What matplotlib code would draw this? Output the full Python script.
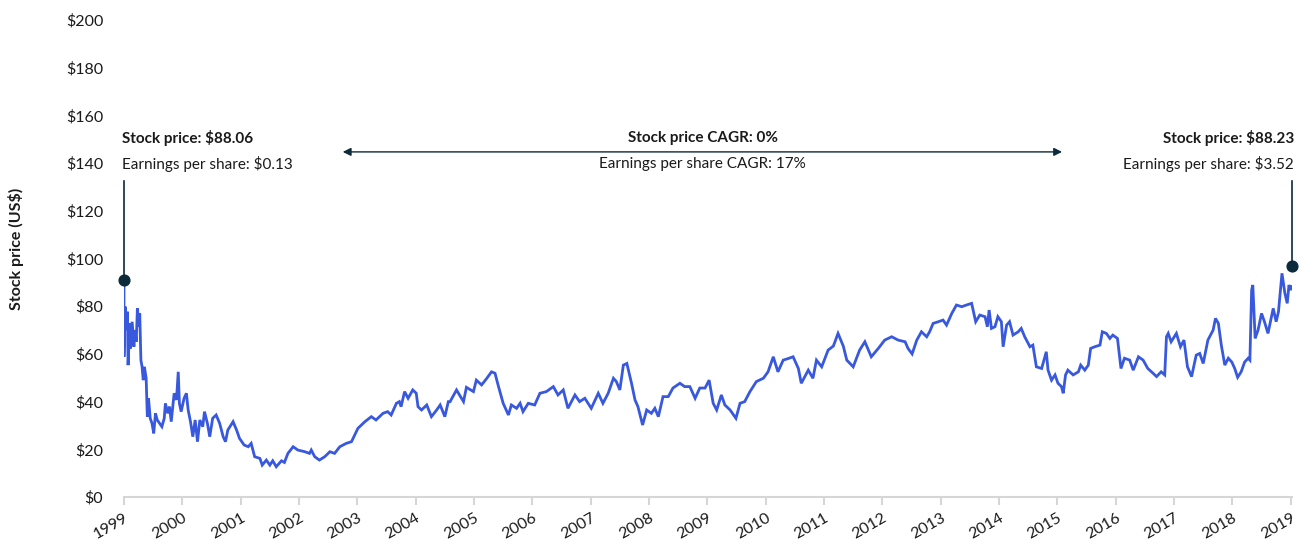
import matplotlib
matplotlib.use('Agg')
import matplotlib.pyplot as plt

# ── Data ─────────────────────────────────────────────────────────────────
years = [
    1999.00, 1999.00, 1999.02, 1999.04, 1999.06, 1999.07, 1999.10, 1999.11, 1999.14, 1999.17,
    1999.19, 1999.21, 1999.23, 1999.26, 1999.27, 1999.29, 1999.31, 1999.33, 1999.35, 1999.38,
    1999.40, 1999.42, 1999.45, 1999.48, 1999.51, 1999.54, 1999.57, 1999.61, 1999.65, 1999.69,
    1999.71, 1999.75, 1999.78, 1999.81, 1999.86, 1999.90, 1999.93, 1999.95, 1999.98, 2000.03,
    2000.07, 2000.10, 2000.14, 2000.18, 2000.22, 2000.26, 2000.30, 2000.35, 2000.38, 2000.43,
    2000.47, 2000.52, 2000.58, 2000.64, 2000.70, 2000.74, 2000.78, 2000.87, 2000.93, 2000.98,
    2001.06, 2001.13, 2001.18, 2001.24, 2001.33, 2001.37, 2001.44, 2001.50, 2001.55, 2001.61,
    2001.70, 2001.75, 2001.81, 2001.90, 2001.98, 2002.10, 2002.18, 2002.21, 2002.27, 2002.35,
    2002.44, 2002.53, 2002.61, 2002.70, 2002.81, 2002.90, 2003.01, 2003.13, 2003.24, 2003.32,
    2003.44, 2003.52, 2003.58, 2003.67, 2003.72, 2003.75, 2003.81, 2003.87, 2003.95, 2004.01,
    2004.04, 2004.10, 2004.19, 2004.27, 2004.36, 2004.42, 2004.50, 2004.56, 2004.59, 2004.70,
    2004.82, 2004.87, 2004.99, 2005.04, 2005.13, 2005.22, 2005.30, 2005.36, 2005.42, 2005.50,
    2005.59, 2005.64, 2005.73, 2005.79, 2005.84, 2005.93, 2006.04, 2006.13, 2006.24, 2006.36,
    2006.44, 2006.53, 2006.61, 2006.73, 2006.81, 2006.90, 2007.01, 2007.13, 2007.21, 2007.30,
    2007.39, 2007.44, 2007.50, 2007.56, 2007.62, 2007.70, 2007.76, 2007.81, 2007.89, 2007.96,
    2008.04, 2008.10, 2008.16, 2008.24, 2008.33, 2008.41, 2008.53, 2008.61, 2008.70, 2008.79,
    2008.87, 2008.96, 2009.03, 2009.10, 2009.16, 2009.24, 2009.30, 2009.39, 2009.49, 2009.56,
    2009.64, 2009.73, 2009.84, 2009.96, 2010.04, 2010.13, 2010.21, 2010.30, 2010.39, 2010.47,
    2010.56, 2010.61, 2010.73, 2010.81, 2010.87, 2010.96, 2011.07, 2011.16, 2011.24, 2011.33,
    2011.39, 2011.50, 2011.61, 2011.70, 2011.81, 2011.93, 2012.04, 2012.16, 2012.27, 2012.39,
    2012.44, 2012.51, 2012.59, 2012.67, 2012.76, 2012.81, 2012.87, 2012.96, 2013.04, 2013.10,
    2013.19, 2013.27, 2013.36, 2013.44, 2013.53, 2013.60, 2013.67, 2013.76, 2013.80, 2013.83,
    2013.87, 2013.93, 2013.98, 2014.04, 2014.07, 2014.13, 2014.18, 2014.24, 2014.33, 2014.38,
    2014.44, 2014.53, 2014.58, 2014.64, 2014.73, 2014.81, 2014.84, 2014.90, 2014.96, 2015.01,
    2015.07, 2015.10, 2015.14, 2015.18, 2015.27, 2015.36, 2015.40, 2015.47, 2015.53, 2015.57,
    2015.64, 2015.73, 2015.77, 2015.84, 2015.90, 2015.95, 2016.03, 2016.09, 2016.15, 2016.24,
    2016.30, 2016.39, 2016.47, 2016.55, 2016.64, 2016.70, 2016.78, 2016.84, 2016.87, 2016.90,
    2016.95, 2017.04, 2017.11, 2017.17, 2017.23, 2017.30, 2017.38, 2017.44, 2017.50, 2017.58,
    2017.67, 2017.71, 2017.76, 2017.81, 2017.87, 2017.93, 2017.99, 2018.04, 2018.09, 2018.15,
    2018.21, 2018.27, 2018.30, 2018.33, 2018.35, 2018.39, 2018.44, 2018.50, 2018.55, 2018.61,
    2018.70, 2018.75, 2018.79, 2018.85, 2018.90, 2018.94, 2018.97, 2019.00, 2019.02,
]
prices = [
    91.0, 58.8, 79.8, 70.0, 77.7, 55.3, 72.8, 62.3, 73.5, 63.0,
    70.0, 65.1, 79.1, 71.4, 77.0, 57.4, 54.6, 49.0, 54.6, 49.8,
    33.7, 41.4, 33.0, 30.9, 26.7, 35.1, 32.3, 30.9, 29.5, 33.0,
    39.3, 35.1, 37.9, 31.6, 43.5, 40.7, 52.5, 39.3, 35.8, 41.4,
    43.5, 36.5, 31.6, 25.3, 32.3, 23.2, 32.3, 29.5, 35.8, 30.9,
    25.3, 33.0, 34.4, 30.9, 25.3, 23.2, 28.1, 31.6, 28.1, 24.6,
    21.8, 21.1, 22.5, 16.9, 16.2, 13.4, 15.5, 13.4, 15.2, 12.7,
    15.2, 14.5, 18.3, 21.1, 19.7, 19.0, 18.3, 19.7, 16.9, 15.5,
    16.9, 19.0, 18.3, 21.1, 22.5, 23.2, 28.8, 31.6, 33.7, 32.3,
    35.1, 35.8, 34.4, 39.3, 40.0, 37.9, 44.2, 41.4, 44.9, 43.5,
    37.9, 36.5, 38.6, 33.7, 36.5, 38.6, 33.7, 40.0, 40.0, 44.9,
    40.0, 46.0, 44.2, 49.0, 47.0, 49.8, 52.5, 51.9, 46.3, 39.3,
    34.4, 38.6, 37.2, 39.3, 35.8, 39.3, 38.6, 43.5, 44.2, 46.3,
    42.8, 44.9, 37.2, 42.8, 40.0, 41.4, 37.2, 43.5, 39.3, 43.5,
    49.8, 48.4, 44.9, 55.3, 56.0, 47.7, 40.7, 37.9, 30.2, 36.5,
    35.1, 37.2, 33.7, 42.1, 42.1, 45.7, 47.7, 46.3, 46.3, 41.4,
    45.7, 45.7, 49.0, 39.3, 36.5, 42.8, 38.6, 36.5, 33.0, 39.3,
    40.0, 44.2, 48.4, 49.8, 52.5, 58.8, 52.5, 57.4, 58.1, 58.8,
    53.9, 47.7, 53.2, 49.8, 57.4, 54.6, 61.6, 63.3, 68.6, 63.3,
    57.4, 54.6, 61.6, 65.1, 58.8, 62.3, 65.8, 67.2, 65.8, 65.1,
    62.3, 60.0, 65.8, 69.3, 67.2, 69.3, 72.8, 73.5, 74.2, 72.1,
    77.0, 80.5, 79.8, 80.5, 81.2, 73.5, 76.3, 75.6, 71.4, 78.4,
    70.7, 71.4, 75.6, 73.5, 63.0, 72.1, 73.5, 67.9, 69.3, 70.7,
    67.2, 63.0, 63.7, 54.6, 53.9, 60.9, 53.2, 49.0, 51.2, 47.7,
    46.3, 43.5, 51.2, 53.2, 51.2, 52.5, 55.3, 53.2, 55.3, 62.3,
    63.0, 63.7, 69.3, 68.6, 66.5, 67.9, 66.5, 53.9, 58.2, 57.4,
    53.2, 58.8, 57.4, 53.9, 51.9, 50.5, 52.5, 51.2, 67.2, 68.6,
    65.1, 68.6, 63.0, 65.8, 54.6, 50.5, 59.5, 60.2, 56.0, 65.8,
    70.0, 74.9, 72.8, 63.7, 55.3, 58.2, 56.6, 53.9, 50.2, 52.5,
    56.6, 58.2, 57.4, 86.8, 88.9, 66.5, 70.0, 77.0, 73.5, 68.6,
    79.1, 73.5, 77.7, 93.8, 85.4, 81.2, 88.9, 86.8, 88.2,
]

marker_years = [1999.0, 2019.02]
marker_values = [91.0, 97.0]

year_ticks = list(range(1999, 2020))
price_ticks = list(range(0, 201, 20))

left_labels = ['Stock price: $88.06', 'Earnings per share: $0.13']
mid_labels = ['Stock price CAGR: 0%', 'Earnings per share CAGR: 17%']
right_labels = ['Stock price: $88.23', 'Earnings per share: $3.52']

# ── Styling ───────────────────────────────────────────────────────────────
plt.rcParams['font.family'] = ['Lato', 'DejaVu Sans']
LINE = '#3858DD'
NAVY = '#0B2A3A'
TEXT = '#1A1A1A'

fig = plt.figure(figsize=(13.01, 5.48), dpi=100)
ax = fig.add_axes([0.0953, 0.093, 0.8977, 0.8705])

ax.plot(years, prices, color=LINE, linewidth=2.0, zorder=3,
        solid_joinstyle='miter')

ax.set_xlim(1999, 2019.02)
ax.set_ylim(0, 200)

ax.set_xticks(year_ticks)
ax.set_xticklabels([str(y) for y in year_ticks], rotation=30, ha='right',
                   rotation_mode='anchor', fontsize=11.5, color=TEXT)
ax.set_yticks(price_ticks)
ax.set_yticklabels([f'${v}' for v in price_ticks], fontsize=11.5, color=TEXT)

for side in ['top', 'right', 'left']:
    ax.spines[side].set_visible(False)
ax.spines['bottom'].set_color('#D6D6D6')
ax.spines['bottom'].set_linewidth(1.5)
ax.tick_params(axis='x', length=6, width=1.5, color='#D6D6D6', pad=4)
ax.tick_params(axis='y', length=0, pad=15)

ax.set_ylabel('Stock price (US$)', fontsize=11.5, fontweight='bold', color=TEXT)
ax.yaxis.set_label_coords(-0.0856, 0.52)

# ── Annotations ───────────────────────────────────────────────────────────
line_top = 132.5
for xm, ym in zip(marker_years, marker_values):
    ax.plot([xm, xm], [ym, line_top], color=NAVY, linewidth=1.2, zorder=4,
            clip_on=False)
ax.scatter(marker_years, marker_values, s=60, color=NAVY, zorder=5, clip_on=False)

ax.text(1998.97, 150.5, left_labels[0], ha='left', va='center', fontsize=11,
        fontweight='bold', color=TEXT)
ax.text(1998.97, 139.6, left_labels[1], ha='left', va='center', fontsize=11,
        color=TEXT)

ax.text(2019.06, 150.5, right_labels[0], ha='right', va='center', fontsize=11,
        fontweight='bold', color=TEXT, clip_on=False)
ax.text(2019.06, 139.6, right_labels[1], ha='right', va='center', fontsize=11,
        color=TEXT, clip_on=False)

ax.text(2008.92, 150.5, mid_labels[0], ha='center', va='center', fontsize=11,
        fontweight='bold', color=TEXT)
ax.text(2008.92, 139.6, mid_labels[1], ha='center', va='center', fontsize=11,
        color=TEXT)
ax.annotate('', xy=(2002.75, 144.7), xytext=(2015.08, 144.7),
            arrowprops=dict(arrowstyle='<|-|>', color=NAVY, lw=1.0,
                            mutation_scale=12, shrinkA=0, shrinkB=0))

fig.savefig('out.png', dpi=100, facecolor='white')
